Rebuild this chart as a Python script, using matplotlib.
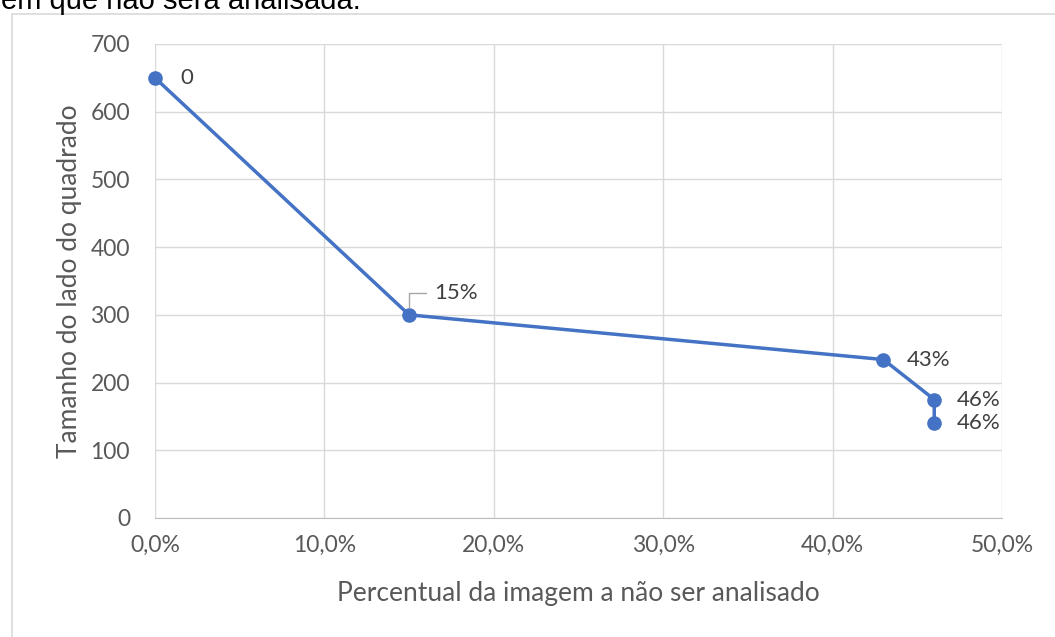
import matplotlib
matplotlib.use("Agg")
import matplotlib.pyplot as plt
from matplotlib.patches import Rectangle
from matplotlib.ticker import FuncFormatter

# Data
pct = [0.0, 0.15, 0.43, 0.46, 0.46]
side = [650, 300, 234, 175, 141]
point_labels = ["0", "15%", "43%", "46%", "46%"]
x_ticks = [0.0, 0.1, 0.2, 0.3, 0.4, 0.5]
y_ticks = [0, 100, 200, 300, 400, 500, 600, 700]
x_label = "Percentual da imagem a não ser analisado"
y_label = "Tamanho do lado do quadrado"
caption = "em que não será analisada."

W, H = 1055, 637
fig = plt.figure(figsize=(W / 100, H / 100), dpi=100)
fig.patch.set_facecolor("white")

# Outer chart border
fig.add_artist(Rectangle((12 / W, -0.1), 2.0, (H - 14) / H + 0.1, transform=fig.transFigure,
                         fill=False, edgecolor="#d9d9d9", linewidth=1.2))
# Clipped caption text at the top
fig.text(1 / W, 1 - 9 / H, caption, fontsize=21, family="Liberation Sans", color="black",
         va="baseline", ha="left")

ax = fig.add_axes([155 / W, 1 - 518 / H, (1002 - 155) / W, (518 - 44) / H])
ax.set_xlim(0, 0.5)
ax.set_ylim(0, 700)
ax.set_xticks(x_ticks)
ax.set_yticks(y_ticks)
ax.xaxis.set_major_formatter(FuncFormatter(lambda v, p: f"{v*100:.1f}%".replace(".", ",")))
ax.grid(True, color="#d9d9d9", linewidth=1)
ax.set_axisbelow(True)
for s in ["top", "right", "left"]:
    ax.spines[s].set_visible(False)
ax.spines["bottom"].set_color("#bfbfbf")
ax.tick_params(length=0, labelsize=16.5, colors="#595959")
for lab in ax.get_xticklabels() + ax.get_yticklabels():
    lab.set_family("Lato")
ax.tick_params(axis="x", pad=12)
ax.tick_params(axis="y", pad=18)

ax.plot(pct, side, color="#4472C4", linewidth=2.5, marker="o", markersize=9.5,
        markerfacecolor="#4472C4", markeredgecolor="#4472C4", clip_on=False, zorder=3)

offsets = [(18, 0), (18, 16), (17, 0), (16, 0), (16, 0)]
for (x, y), lab, off in zip(zip(pct, side), point_labels, offsets):
    ax.annotate(lab, (x, y), xytext=off, textcoords="offset points", ha="left", va="center",
                fontsize=16, color="#404040", family="Lato")
# leader line for 15%
ax.annotate("", (pct[1], side[1]), xytext=(12, 16), textcoords="offset points",
            arrowprops=dict(arrowstyle="-", color="#a6a6a6", lw=1,
                            connectionstyle="angle,angleA=0,angleB=90,rad=0",
                            shrinkA=0, shrinkB=5))

ax.set_xlabel(x_label, fontsize=19, color="#595959", family="Lato", labelpad=18)
ax.set_ylabel(y_label, fontsize=19, color="#595959", family="Lato", labelpad=6)

fig.savefig("out.png", dpi=100)
